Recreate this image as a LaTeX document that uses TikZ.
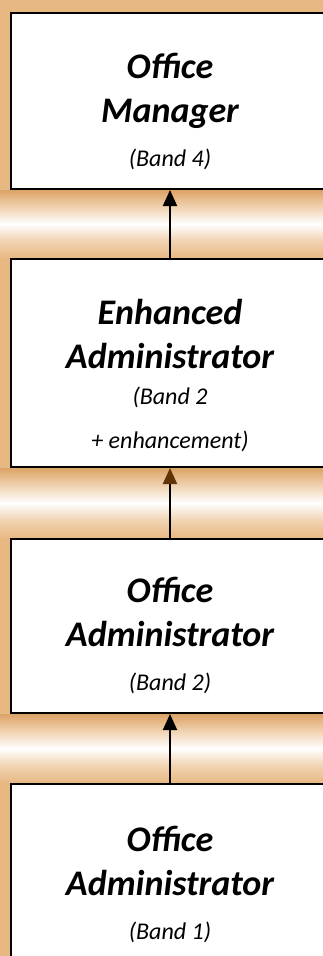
\documentclass[tikz,border=0pt]{standalone}
\usepackage{fontspec}
\setmainfont{Carlito}
\usetikzlibrary{positioning,arrows.meta,backgrounds}

\definecolor{glow}{RGB}{232,184,130}
\definecolor{glowdark}{RGB}{220,163,102}
\definecolor{tipbrown}{RGB}{96,52,8}

\newcommand{\rolefont}{\fontsize{36}{44}\selectfont\bfseries\itshape}
\newcommand{\bandfont}{\fontsize{24}{44}\selectfont\mdseries\itshape}

% glow in the gap between two posts: dark under the upper one, white halfway
\pgfdeclareverticalshading{gapglow}{100bp}{%
	color(0bp)=(glow); color(25bp)=(glow); color(38bp)=(glow!60!white);
	color(50bp)=(white); color(62bp)=(glow!60!white);
	color(75bp)=(glowdark); color(100bp)=(glowdark)}

\tikzset{
	post/.style={draw=black, line width=2pt, fill=white, minimum width=318pt, inner sep=0pt},
	title/.style={align=center, inner sep=0pt, font=\rolefont},
	promote/.style={line width=2pt, -{Triangle[length=16pt, width=14pt]}},
}

\begin{document}
\begin{tikzpicture}[x=1pt, y=1pt]
		\useasboundingbox (0,0) rectangle (323,-956);
		\clip (0,0) rectangle (323,-956);
		\coordinate (bl) at (0,-956);
		\coordinate (tr) at (323,0);

		% the four posts, top to bottom
		\node[post, minimum height=176pt] (mgr) at (170,-101) {};
		\node[post, minimum height=208pt] (enh) at (170,-363) {};
		\node[post, minimum height=174pt] (adm2) at (170,-626) {};
		\node[post, minimum height=200pt] (adm1) at (170,-884) {};

		\node[title, below=41pt of mgr.north] (mgr-t) {Office\\Manager\\\bandfont (Band 4)};
		\node[title, below=41pt of enh.north] (enh-t) {Enhanced\\Administrator\\[-8pt]\bandfont (Band 2\\\bandfont + enhancement)};
		\node[title, below=39pt of adm2.north] (adm2-t) {Office\\Administrator\\\bandfont (Band 2)};
		\node[title, below=43pt of adm1.north] (adm1-t) {Office\\Administrator\\\bandfont (Band 1)};

		\draw[promote] (enh) -- (mgr);
		\draw[promote, -{Triangle[length=16pt, width=14pt, color=tipbrown]}] (adm2) -- (enh);
		\draw[promote] (adm1) -- (adm2);

		\begin{scope}[on background layer]
			\fill[glow] (bl) rectangle (tr);
			\shade[shading=gapglow] (bl |- mgr.south) rectangle (tr |- enh.north);
			\shade[shading=gapglow] (bl |- enh.south) rectangle (tr |- adm2.north);
			\shade[shading=gapglow] (bl |- adm2.south) rectangle (tr |- adm1.north);
		\end{scope}
	\end{tikzpicture}
\end{document}
